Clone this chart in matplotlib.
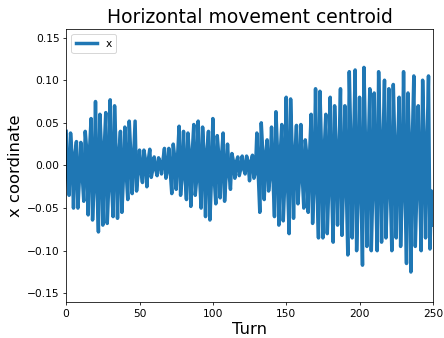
import matplotlib
matplotlib.use('Agg')
import matplotlib.pyplot as plt
import numpy as np

# horizontal centroid per turn
x_values = [
    0.040, -0.013, -0.035, 0.038, 0.012, -0.050, 0.012, 0.028, -0.050, -0.016,
    0.027, -0.012, -0.042, 0.040, 0.018, -0.058, 0.020, 0.055, -0.064, -0.022,
    0.075, -0.025, -0.078, 0.060, 0.020, -0.070, 0.021, 0.062, -0.068, -0.024,
    0.077, -0.022, -0.060, 0.070, 0.018, -0.062, 0.013, 0.040, -0.055, -0.015,
    0.045, -0.010, -0.040, 0.052, 0.015, -0.033, 0.010, 0.052, -0.030, -0.010,
    0.018, -0.006, -0.020, 0.018, 0.007, -0.025, 0.006, 0.019, -0.014, -0.005,
    0.010, -0.004, -0.012, 0.009, 0.004, -0.010, 0.006, 0.020, -0.015, -0.006,
    0.020, -0.008, -0.033, 0.025, 0.009, -0.028, 0.012, 0.046, -0.035, -0.012,
    0.040, -0.013, -0.040, 0.038, 0.012, -0.048, 0.016, 0.048, -0.035, -0.015,
    0.052, -0.015, -0.050, 0.045, 0.014, -0.060, 0.015, 0.040, -0.064, -0.018,
    0.055, -0.016, -0.045, 0.035, 0.012, -0.038, 0.012, 0.038, -0.042, -0.012,
    0.025, -0.008, -0.028, 0.014, 0.005, -0.015, 0.004, 0.010, -0.012, -0.004,
    0.011, -0.004, -0.010, 0.011, 0.004, -0.018, 0.005, 0.012, -0.015, -0.008,
    0.038, -0.012, -0.055, 0.050, 0.016, -0.040, 0.011, 0.030, -0.030, -0.012,
    0.045, -0.014, -0.060, 0.063, 0.018, -0.070, 0.015, 0.048, -0.065, -0.020,
    0.080, -0.025, -0.080, 0.078, 0.020, -0.062, 0.013, 0.047, -0.045, -0.015,
    0.048, -0.014, -0.050, 0.030, 0.012, -0.055, 0.015, 0.060, -0.068, -0.020,
    0.090, -0.028, -0.085, 0.087, 0.022, -0.085, 0.020, 0.060, -0.080, -0.025,
    0.080, -0.025, -0.090, 0.070, 0.020, -0.070, 0.018, 0.090, -0.082, -0.025,
    0.070, -0.025, -0.105, 0.110, 0.030, -0.085, 0.025, 0.112, -0.100, -0.030,
    0.080, -0.030, -0.117, 0.115, 0.030, -0.095, 0.020, 0.090, -0.100, -0.030,
    0.085, -0.025, -0.100, 0.110, 0.030, -0.090, 0.024, 0.100, -0.085, -0.026,
    0.090, -0.028, -0.100, 0.095, 0.025, -0.085, 0.022, 0.080, -0.095, -0.028,
    0.110, -0.030, -0.115, 0.085, 0.022, -0.125, 0.030, 0.105, -0.095, -0.030,
    0.070, -0.025, -0.100, 0.100, 0.028, -0.085, 0.022, 0.105, -0.098, -0.030,
    -0.070,
]
turns = np.arange(len(x_values))

dpi = 69.375
fig, ax = plt.subplots(figsize=(444 / dpi, 338 / dpi), dpi=dpi)
fig.subplots_adjust(left=0.149, right=0.975, top=0.914, bottom=0.107)

ax.plot(turns, x_values, label='x', color='#1f77b4', linewidth=3.6)
ax.set_xlim(0, 250)
ax.set_ylim(-0.16, 0.16)
ax.set_yticks([-0.15, -0.10, -0.05, 0.0, 0.05, 0.10, 0.15])
ax.tick_params(labelsize=11)
ax.set_title('Horizontal movement centroid', fontsize=19.5)
ax.set_xlabel('Turn', fontsize=17)
ax.set_ylabel('x coordinate', fontsize=17)
ax.legend(loc='upper left', fontsize=11)

fig.savefig('out.png', dpi=dpi)
